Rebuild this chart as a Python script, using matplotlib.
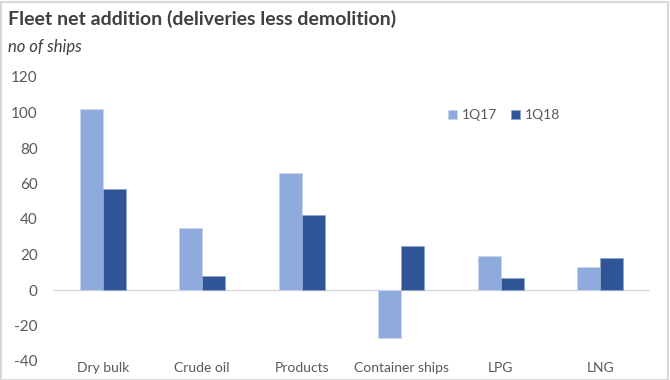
import matplotlib.pyplot as plt
import matplotlib.patches as mpatches
import numpy as np

categories = ["Dry bulk", "Crude oil", "Products", "Container ships", "LPG", "LNG"]
q17 = [102, 35, 66, -27, 19, 13]
q18 = [57, 8, 42, 25, 7, 18]
yticks = [-40, -20, 0, 20, 40, 60, 80, 100, 120]

LIGHT = "#8FAADC"
DARK = "#2F5597"
GREY = "#595959"

plt.rcParams["font.family"] = ["Lato", "DejaVu Sans"]

fig = plt.figure(figsize=(6.70, 3.80), dpi=100)
ax = fig.add_axes([53 / 670, 1 - 361 / 380, 597 / 670, 284 / 380])

x = np.arange(len(categories))
w = 0.232
ax.bar(x - w / 2, q17, w, color=LIGHT, edgecolor="#C9D6EE", linewidth=0.6, label="1Q17", zorder=3)
ax.bar(x + w / 2, q18, w, color=DARK, edgecolor="#8FA6CF", linewidth=0.6, label="1Q18", zorder=3)

ax.set_xlim(-0.5, len(categories) - 0.5)
ax.set_ylim(-40, 120)
ax.set_yticks(yticks)
ax.set_yticklabels([str(t) for t in yticks], color=GREY, fontsize=11)
ax.tick_params(axis="y", length=0, pad=11)
ax.axhline(0, color="#D9D9D9", linewidth=1, zorder=2)

# category labels just under the plot area
ax.set_xticks(x)
ax.set_xticklabels(categories, color=GREY, fontsize=10)
ax.tick_params(axis="x", length=0, pad=1)

for s in ax.spines.values():
    s.set_visible(False)

ax.legend(loc="upper left", bbox_to_anchor=(0.64, 0.93), ncol=2, frameon=False,
          fontsize=10, labelcolor=GREY, handlelength=0.7, handleheight=0.7,
          handletextpad=0.3, columnspacing=1.0)

fig.text(8 / 670, 1 - 19 / 380, "Fleet net addition (deliveries less demolition)",
         fontsize=14, fontweight="bold", color="#404040", va="center")
fig.text(8 / 670, 1 - 47 / 380, "no of ships", fontsize=12, style="italic",
         color="#404040", va="center")

# light grey frame round the whole picture
fig.patches.append(mpatches.Rectangle((0.5 / 670, 0), 1 - 2.5 / 670, 1 - 1.5 / 380,
                                      transform=fig.transFigure, fill=False,
                                      edgecolor="#D9D9D9", linewidth=1.5))

fig.savefig("out.png", dpi=100)
